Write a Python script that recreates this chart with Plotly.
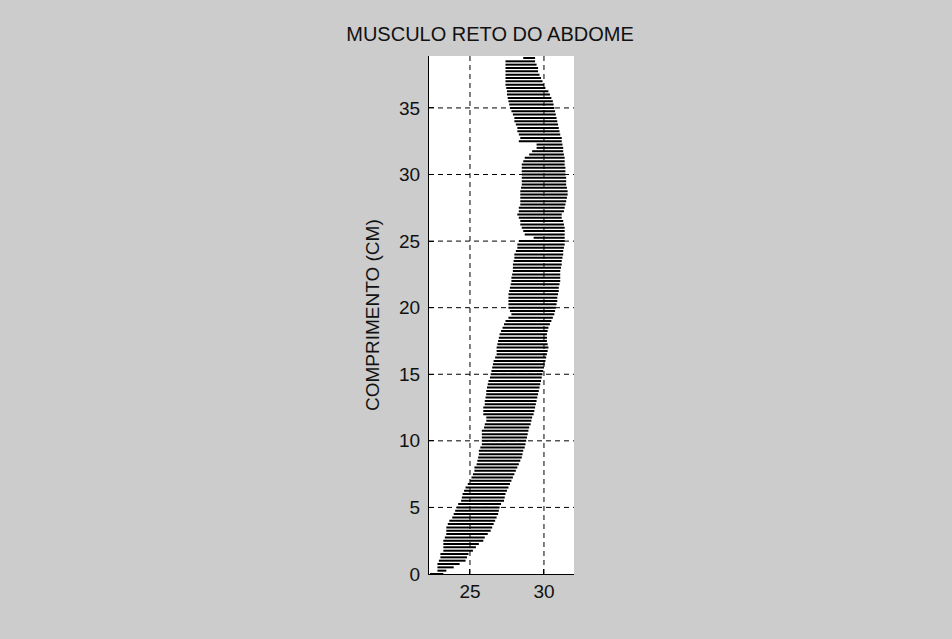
import plotly.graph_objects as go

# Horizontal cross-section lines: y level (cm), left and right edges
y_levels = [round(0.25 * i, 2) for i in range(156)]

left_edge = [
    22.3, 22.8, 22.8, 22.8,
    22.9, 23.0, 23.0, 23.2,
    23.2, 23.2, 23.2, 23.3,
    23.4, 23.4, 23.4, 23.5,
    23.6, 23.8, 23.9, 24.0,
    24.1, 24.2, 24.4, 24.45,
    24.5, 24.6, 24.7, 24.85,
    25.0, 25.1, 25.2, 25.3,
    25.3, 25.45, 25.5, 25.55,
    25.6, 25.6, 25.7, 25.8,
    25.8, 25.8, 25.8, 25.8,
    25.95, 26.0, 26.1, 26.1,
    25.9, 25.9, 25.9, 26.0,
    26.0, 26.05, 26.1, 26.1,
    26.15, 26.2, 26.25, 26.35,
    26.4, 26.45, 26.5, 26.55,
    26.6, 26.7, 26.8, 26.8,
    26.8, 26.85, 26.9, 26.95,
    27.0, 27.1, 27.2, 27.3,
    27.4, 27.6, 27.8, 27.7,
    27.6, 27.6, 27.6, 27.6,
    27.6, 27.65, 27.7, 27.75,
    27.8, 27.8, 27.85, 27.9,
    27.9, 27.9, 27.95, 28.0,
    28.0, 28.1, 28.2, 28.2,
    28.3, 29.3, 28.7, 28.6,
    28.5, 28.4, 28.4, 28.3,
    28.2, 28.3, 28.3, 28.4,
    28.4, 28.4, 28.4, 28.4,
    28.45, 28.5, 28.5, 28.5,
    28.5, 28.5, 28.5, 28.5,
    28.6, 28.7, 29.0, 29.2,
    29.5, 29.5, 28.3, 28.4,
    28.3, 28.2, 28.2, 28.1,
    28.0, 28.0, 27.9, 27.8,
    27.7, 27.65, 27.6, 27.55,
    27.5, 27.5, 27.45, 27.4,
    27.4, 27.4, 27.4, 27.4,
    27.4, 27.4, 27.4, 28.6,
]

right_edge = [
    23.2, 23.4, 23.9, 24.3,
    24.7, 24.8, 24.9, 25.2,
    25.4, 25.6, 25.9, 26.0,
    26.2, 26.4, 26.5, 26.6,
    26.7, 26.8, 26.9, 26.95,
    27.0, 27.1, 27.3, 27.35,
    27.4, 27.5, 27.6, 27.7,
    27.8, 27.9, 28.0, 28.1,
    28.2, 28.3, 28.4, 28.5,
    28.55, 28.6, 28.7, 28.75,
    28.8, 28.85, 28.9, 28.95,
    29.0, 29.1, 29.15, 29.2,
    29.3, 29.35, 29.4, 29.45,
    29.5, 29.55, 29.6, 29.65,
    29.7, 29.75, 29.8, 29.85,
    29.9, 29.95, 30.0, 30.05,
    30.1, 30.15, 30.2, 30.25,
    30.3, 30.25, 30.2, 30.2,
    30.2, 30.25, 30.3, 30.4,
    30.5, 30.6, 30.7, 30.75,
    30.8, 30.85, 30.9, 30.9,
    30.95, 31.0, 31.0, 31.05,
    31.1, 31.1, 31.1, 31.1,
    31.15, 31.2, 31.2, 31.25,
    31.3, 31.3, 31.35, 31.4,
    31.4, 31.4, 31.4, 31.4,
    31.4, 31.35, 31.3, 31.2,
    31.2, 31.35, 31.4, 31.45,
    31.5, 31.55, 31.6, 31.6,
    31.55, 31.5, 31.5, 31.5,
    31.45, 31.45, 31.45, 31.4,
    31.4, 31.4, 31.35, 31.3,
    31.3, 31.25, 31.2, 31.2,
    31.1, 31.05, 31.0, 30.95,
    30.9, 30.85, 30.8, 30.75,
    30.7, 30.65, 30.6, 30.5,
    30.4, 30.3, 30.1, 30.0,
    29.9, 29.8, 29.7, 29.6,
    29.6, 29.5, 29.4, 29.4,
]

x_ticks = [25, 30]
y_ticks = [0, 5, 10, 15, 20, 25, 30, 35]
x_range = [22.23, 32.03]
y_range = [0, 38.9]

title_text = "MUSCULO RETO DO ABDOME"
y_title = "COMPRIMENTO (CM)"

FONT = "Liberation Sans, Arial, sans-serif"

xs, ys = [], []
for yv, l, r in zip(y_levels, left_edge, right_edge):
    xs += [l, r, None]
    ys += [yv, yv, None]

fig = go.Figure()
fig.add_trace(go.Scatter(
    x=xs, y=ys, mode="lines",
    line=dict(color="black", width=2),
    hoverinfo="skip", showlegend=False, connectgaps=False,
))

grid_line = dict(color="black", width=1, dash="5px,4px")
shapes = []
for t in x_ticks:
    shapes.append(dict(type="line", xref="x", yref="paper", x0=t, x1=t, y0=0, y1=1,
                       line=grid_line, layer="above"))
for t in y_ticks:
    if t == y_range[0]:
        continue
    shapes.append(dict(type="line", xref="paper", yref="y", x0=0, x1=1, y0=t, y1=t,
                       line=grid_line, layer="above"))

W, H = 952, 639
ML, MR, MT, MB = 429, 378, 56, 65

fig.update_layout(
    width=W, height=H,
    margin=dict(l=ML, r=MR, t=MT, b=MB, pad=0),
    paper_bgcolor="#cccccc",
    plot_bgcolor="white",
    font=dict(family=FONT, size=19, color="black"),
    showlegend=False,
    shapes=shapes,
    xaxis=dict(
        range=x_range, tickvals=x_ticks, ticktext=[str(v) for v in x_ticks],
        showgrid=False, zeroline=False,
        showline=True, linecolor="black", linewidth=1, mirror=False,
        ticks="inside", ticklen=5, tickcolor="black", tickwidth=1,
        tickfont=dict(family=FONT, size=19, color="#111111"),
        layer="above traces",
    ),
    yaxis=dict(
        range=y_range, tickvals=y_ticks, ticktext=[str(v) for v in y_ticks],
        showgrid=False, zeroline=False,
        showline=True, linecolor="black", linewidth=1, mirror=False,
        ticks="inside", ticklen=5, tickcolor="black", tickwidth=1,
        tickfont=dict(family=FONT, size=19, color="#111111"),
        ticklabelstandoff=4,
        layer="above traces",
    ),
    title=dict(
        text=title_text, xref="container", yref="container",
        x=490 / W, y=1 - 34 / H, xanchor="center", yanchor="middle",
        font=dict(family=FONT, size=20, color="#111111"),
    ),
    annotations=[dict(
        text=y_title, xref="paper", yref="paper",
        x=(372 - ML) / (W - ML - MR), y=0.5, textangle=-90,
        showarrow=False, xanchor="center", yanchor="middle",
        font=dict(family=FONT, size=19, color="#111111"),
    )],
)

fig.write_html("out.html")
